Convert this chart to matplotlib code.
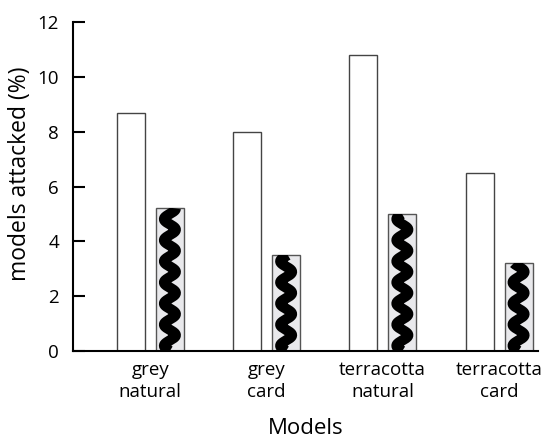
import numpy as np
import matplotlib.pyplot as plt

plt.rcParams['font.family'] = ['Open Sans', 'DejaVu Sans']

models = ["grey\nnatural", "grey\ncard", "terracotta\nnatural", "terracotta\ncard"]
open_bars = [8.7, 8.0, 10.8, 6.5]
wave_bars = [5.2, 3.5, 5.0, 3.2]

x = np.arange(len(models))
w = 0.24

fig = plt.figure(figsize=(5.43, 4.42), dpi=100)
ax = fig.add_axes([0.1344, 0.2059, 0.857, 0.744])

ax.bar(x - 0.165, open_bars, w, color="white", edgecolor="#444444", linewidth=1.0, zorder=2)
bars = ax.bar(x + 0.17, wave_bars, w, color="#e9e9ec", edgecolor="#555555", linewidth=1.0, zorder=2)

# wavy black pattern inside the second bar of each pair
period = 0.77
amp = 0.05
for b in bars:
    cx = b.get_x() + b.get_width() / 2
    yy = np.linspace(0, b.get_height(), 400)
    line, = ax.plot(cx + amp * np.sin(2 * np.pi * yy / period + np.pi), yy,
                    color="black", lw=7.5, solid_capstyle="butt", zorder=3)
    line.set_clip_path(b)

ax.set_xlim(-0.664, 3.34)
ax.set_ylim(0, 12)
ax.set_yticks(range(0, 13, 2))
ax.set_xticks(x)
ax.set_xticklabels(models, linespacing=1.33)

ax.spines["top"].set_visible(False)
ax.spines["right"].set_visible(False)
ax.spines["left"].set_linewidth(1.5)
ax.spines["bottom"].set_linewidth(1.5)

ax.tick_params(axis="y", direction="in", length=8.5, width=1.5, pad=10, labelsize=13.5)
ax.tick_params(axis="x", length=0, pad=7, labelsize=13.5)

ax.set_xlabel("Models", fontsize=16, labelpad=12)
ax.set_ylabel("models attacked (%)", fontsize=16.5)
ax.yaxis.set_label_coords(-0.087, 0.54)

fig.savefig("out.png", dpi=100)
